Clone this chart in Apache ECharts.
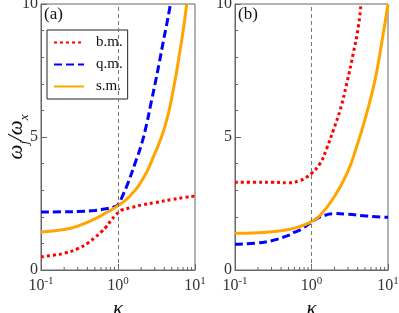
<!DOCTYPE html>
<html><head><meta charset="utf-8">
<script src="https://cdn.jsdelivr.net/npm/echarts@6/dist/echarts.min.js"></script>
<style>html,body{margin:0;padding:0;background:#fff}#c{width:399px;height:313px}</style>
</head><body><div id="c"></div>
<script>
// Panel (a)
const kBmA = [0.1,0.15,0.2,0.3,0.4,0.5,0.6,0.7,0.8,0.9,1,1.1,1.5,2,3,5,7,10];
const bmA  = [0.5,0.56,0.63,0.8,1.0,1.22,1.42,1.62,1.84,2.02,2.15,2.25,2.35,2.44,2.53,2.65,2.72,2.78];
const kQmA = [0.1,0.2,0.3,0.5,0.7,0.9,1,1.15,1.36,1.66,2.03,2.36,2.65,3.03,3.44,3.88,4.4,4.8];
const qmA  = [2.18,2.19,2.2,2.24,2.3,2.38,2.45,2.8,3.3,4.0,4.75,5.5,6.2,7.0,7.8,8.6,9.4,10.0];
const kSmA = [0.1,0.2,0.3,0.5,0.7,1,1.43,2.13,2.88,4.07,5.24,6.39,7.1,7.8];
const smA  = [1.43,1.52,1.65,1.92,2.15,2.42,2.78,3.45,4.25,5.4,6.8,8.25,9.1,10.0];
// Panel (b)
const kBmB = [0.1,0.2,0.3,0.5,0.7,0.85,1,1.29,1.58,1.93,2.36,2.88,3.52,4.1,4.43];
const bmB  = [3.3,3.3,3.3,3.28,3.36,3.48,3.63,4.0,4.57,5.26,6.0,7.0,8.15,9.15,10.0];
const kQmB = [0.1,0.2,0.3,0.5,0.6,0.7,1,1.29,1.6,1.93,2.88,5.26,10];
const qmB  = [0.97,1.02,1.1,1.3,1.42,1.5,1.8,2.0,2.08,2.12,2.1,2.03,1.98];
const kSmB = [0.1,0.2,0.3,0.5,0.71,1,1.29,1.93,2.88,3.9,5.26,6.76,8.26,10];
const smB  = [1.38,1.4,1.44,1.52,1.64,1.82,2.05,2.7,3.6,4.64,5.89,7.14,8.52,10.0];
// axes
const xMinorTicks = [0.2,0.3,0.4,0.5,0.6,0.7,0.8,0.9,2,3,4,5,6,7,8,9];
const names = ['b.m.','q.m.','s.m.'];
const colors = ['#ff0000','#0000ff','#ffa500'];
const dashes = [[3,3],[8,4],'solid'];

const zip = (k, v) => k.map((x, i) => [x, v[i]]);
const serif = 'Liberation Serif';
const axisColor = '#666';

function xAxis(gi) {
  return {
    type: 'log', logBase: 10, min: 0.1, max: 10, gridIndex: gi,
    axisLine: {lineStyle: {color: axisColor}},
    axisTick: {inside: true, length: 6, lineStyle: {color: axisColor}},
    splitLine: {show: false}, minorTick: {show: false},
    axisLabel: {
      margin: 6, hideOverlap: false,
      formatter: v => '{b|10}{s|' + Math.round(Math.log10(v)) + '}',
      rich: {
        b: {fontFamily: serif, fontSize: 16, color: '#333', verticalAlign: 'bottom'},
        s: {fontFamily: serif, fontSize: 11, color: '#333', verticalAlign: 'bottom', padding: [0,0,7,0]}
      }
    },
    name: 'κ', nameLocation: 'middle', nameGap: 24,
    nameTextStyle: {fontFamily: serif, fontStyle: 'italic', fontSize: 21, color: '#111'}
  };
}
function yAxis(gi, withName) {
  const a = {
    type: 'value', min: 0, max: 10, interval: 5, gridIndex: gi,
    axisLine: {show: true, lineStyle: {color: axisColor}},
    axisTick: {show: true, inside: true, length: 6, lineStyle: {color: axisColor}},
    minorTick: {show: true, splitNumber: 5, length: 3, lineStyle: {color: axisColor}},
    splitLine: {show: false},
    axisLabel: {margin: 3, fontFamily: serif, fontSize: 16, color: '#333'}
  };
  if (withName) {
    a.name = '{i|ω}{sub|j}{i|/ω}{sub|x}';
    a.nameLocation = 'middle';
    a.nameGap = 14;
    a.nameMoveOverlap = false;
    a.nameRotate = 90;
    a.nameTextStyle = {
      rich: {
        i: {fontFamily: serif, fontStyle: 'italic', fontSize: 21, color: '#111'},
        sub: {fontFamily: serif, fontStyle: 'italic', fontSize: 13, color: '#111', verticalAlign: 'bottom', padding: [0,0,-4,0]}
      }
    };
  }
  return a;
}
function curve(name, idx, data, gi, mark) {
  const s = {
    name, type: 'line', xAxisIndex: gi, yAxisIndex: gi, data,
    smooth: 0.5,
    showSymbol: false, symbol: 'none', clip: true, z: 3,
    lineStyle: {color: colors[idx], width: 3, type: dashes[idx]},
    itemStyle: {color: colors[idx]}
  };
  if (mark) {
    s.markLine = {
      silent: true, symbol: 'none', label: {show: false}, animation: false,
      lineStyle: {type: [4,3], color: '#777', width: 1},
      data: [{xAxis: 1}]
    };
  }
  return s;
}
function minorTicks(gi) {
  return {
    type: 'custom', xAxisIndex: gi, yAxisIndex: gi, silent: true, z: 1,
    data: xMinorTicks.map(k => [k, 0]),
    renderItem: (params, api) => {
      const p = api.coord([api.value(0), api.value(1)]);
      return {type: 'line', shape: {x1: p[0], y1: p[1], x2: p[0], y2: p[1] - 3},
              style: {stroke: axisColor, lineWidth: 1}};
    }
  };
}

const chart = echarts.init(document.getElementById('c'));
chart.setOption({
  animation: false,
  backgroundColor: '#fff',
  grid: [
    {left: 41, top: 4, width: 154, height: 266, show: true, borderColor: axisColor, borderWidth: 1, containLabel: false, outerBoundsMode: 'none'},
    {left: 235, top: 4, width: 153, height: 266, show: true, borderColor: axisColor, borderWidth: 1, containLabel: false, outerBoundsMode: 'none'}
  ],
  xAxis: [xAxis(0), xAxis(1)],
  yAxis: [yAxis(0, true), yAxis(1, false)],
  legend: {
    data: names, orient: 'vertical', left: 47, top: 30,
    itemWidth: 30, itemHeight: 14, itemGap: 7,
    padding: [5, 5, 5, 6],
    itemStyle: {opacity: 0},
    borderColor: '#222', borderWidth: 1, backgroundColor: '#fff',
    textStyle: {fontFamily: serif, fontSize: 15, color: '#111', padding: [0,0,0,7]}
  },
  graphic: [
    {type: 'text', left: 44, top: 6, style: {text: '(a)', fontFamily: serif, fontSize: 17, fill: '#111'}},
    {type: 'text', left: 238, top: 6, style: {text: '(b)', fontFamily: serif, fontSize: 17, fill: '#111'}}
  ],
  series: [
    curve(names[0], 0, zip(kBmA, bmA), 0, true),
    curve(names[1], 1, zip(kQmA, qmA), 0, false),
    curve(names[2], 2, zip(kSmA, smA), 0, false),
    curve(names[0], 0, zip(kBmB, bmB), 1, true),
    curve(names[1], 1, zip(kQmB, qmB), 1, false),
    curve(names[2], 2, zip(kSmB, smB), 1, false),
    minorTicks(0), minorTicks(1)
  ]
});
</script></body></html>
